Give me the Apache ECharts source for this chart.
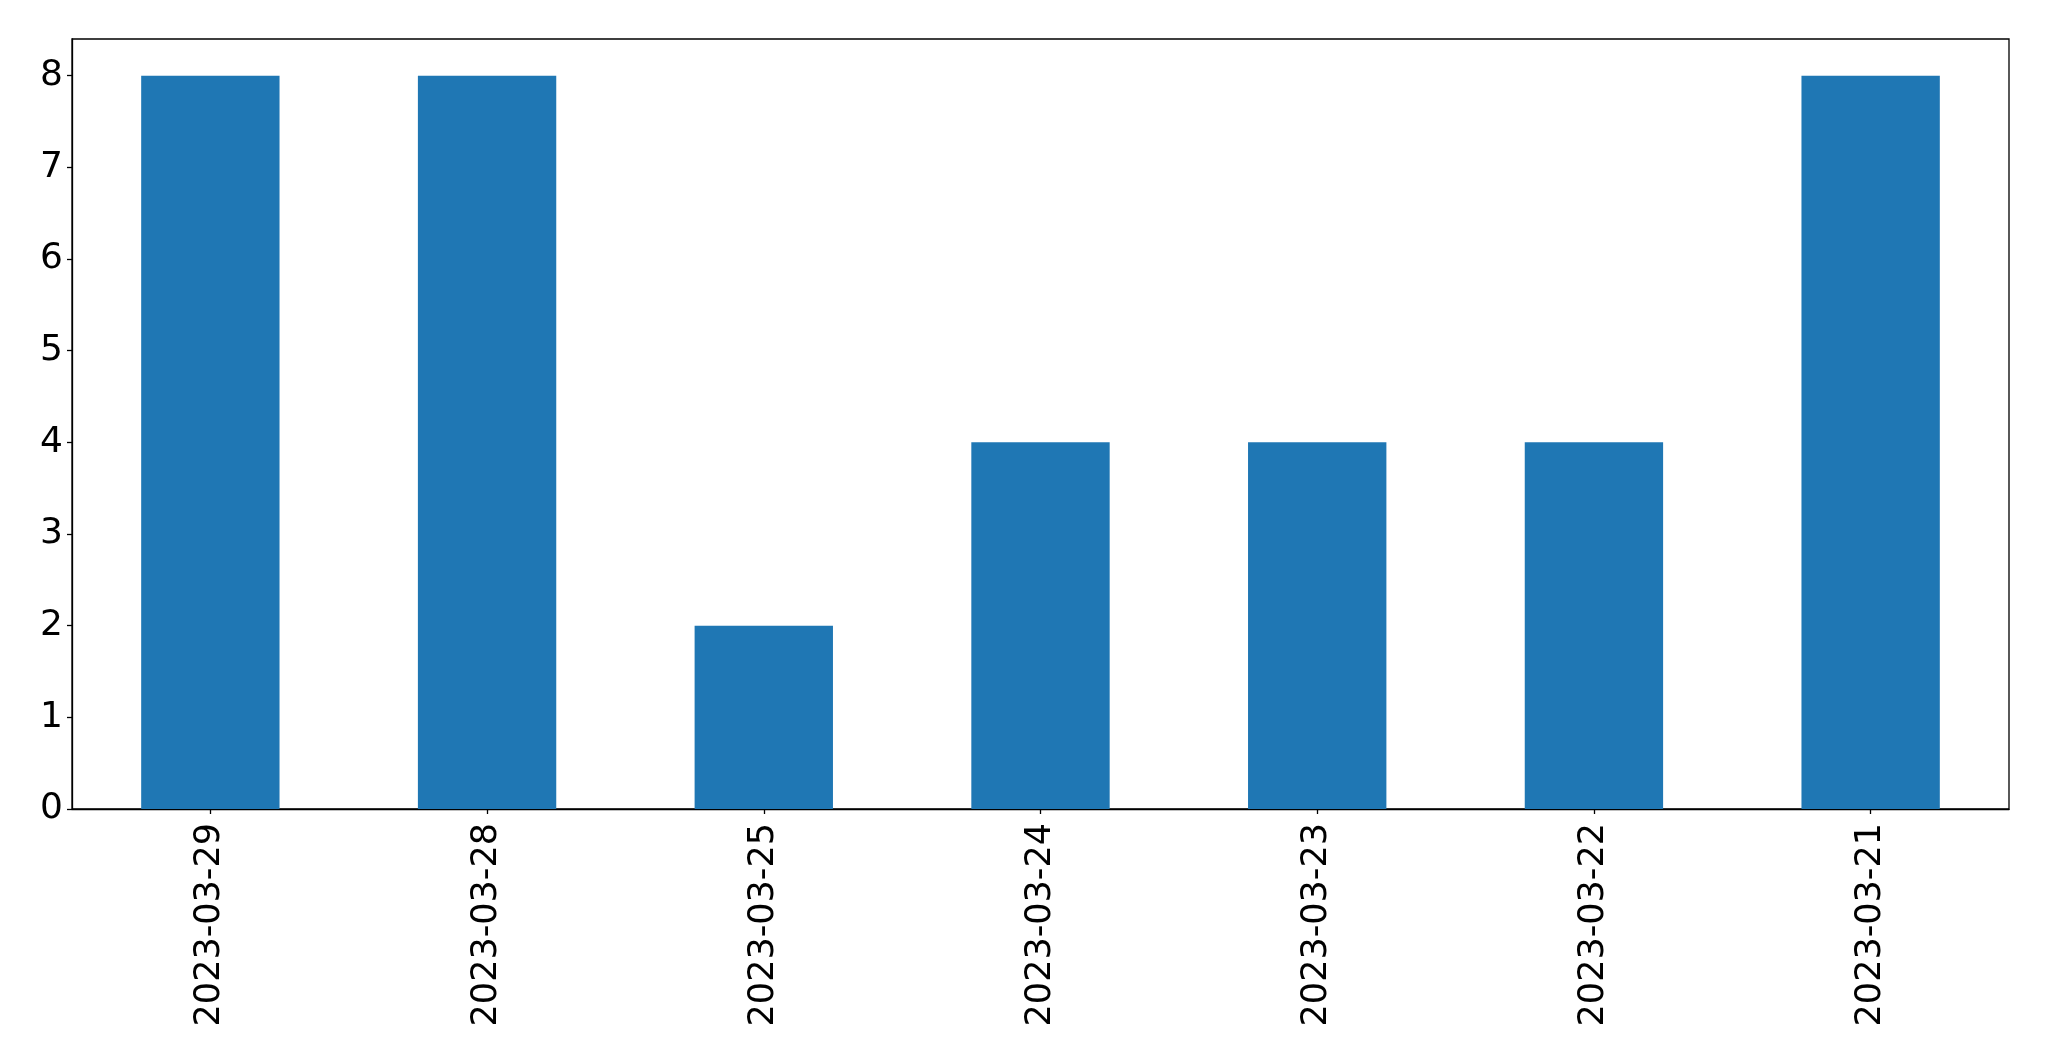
<!DOCTYPE html>
<html>
<head>
<meta charset="utf-8">
<script src="https://cdn.jsdelivr.net/npm/echarts@6/dist/echarts.min.js"></script>
<style>
html,body{margin:0;padding:0;background:#fff;}
#chart{width:2049px;height:1061px;}
</style>
</head>
<body>
<div id="chart"></div>
<script>
const categories = ["2023-03-29","2023-03-28","2023-03-25","2023-03-24","2023-03-23","2023-03-22","2023-03-21"];
const values = [8, 8, 2, 4, 4, 4, 8];

const chart = echarts.init(document.getElementById('chart'), null, {renderer:'canvas'});
const font = 'DejaVu Sans';
chart.setOption({
  animation: false,
  backgroundColor: '#ffffff',
  grid: {left:72, right:40, top:39, bottom:252, show:true, borderColor:'#000', borderWidth:1.3, backgroundColor:'transparent'},
  xAxis: {
    type:'category', data: categories,
    axisLine:{show:true, lineStyle:{color:'#000', width:1.3}},
    axisTick:{show:true, alignWithLabel:true, length:5, lineStyle:{color:'#000', width:1.3}},
    axisLabel:{rotate:90, margin:14, color:'#000', fontFamily:font, fontSize:35, interval:0},
    splitLine:{show:false}
  },
  yAxis: {
    type:'value', min:0, max:8.4, interval:1,
    axisLine:{show:true, lineStyle:{color:'#000', width:1.3}},
    axisTick:{show:true, length:5, lineStyle:{color:'#000', width:1.3}},
    axisLabel:{margin:9, color:'#000', fontFamily:font, fontSize:36, showMaxLabel:false},
    splitLine:{show:false}
  },
  series: [{
    type:'bar', data: values, barWidth:'50%',
    itemStyle:{color:'#1f77b4'}
  }]
});
</script>
</body>
</html>
